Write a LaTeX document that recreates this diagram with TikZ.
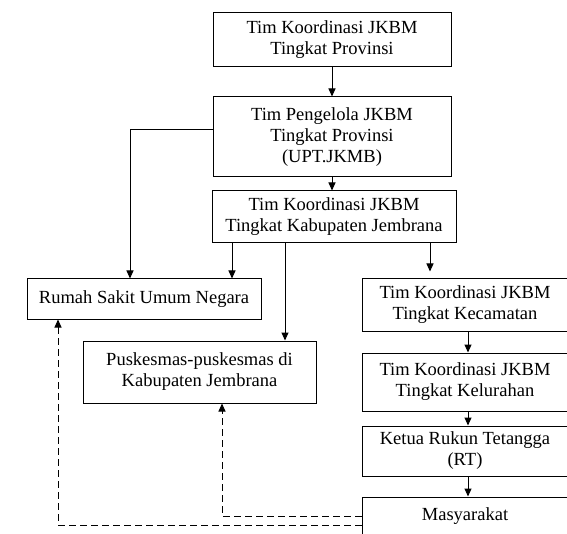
\documentclass[tikz,border=0pt]{standalone}
\usepackage{fontspec}
\setmainfont{Liberation Serif}
\usetikzlibrary{arrows.meta}

\begin{document}
\begin{tikzpicture}[x=1pt, y=-1pt,
		box/.style={draw, line width=1pt, align=center, inner sep=3pt, font=\fontsize{18.5}{21}\selectfont},
		arr/.style={line width=1pt, -{Triangle[length=8pt,width=7pt]}},
		dasharr/.style={arr, dash pattern=on 7pt off 4pt}]

		\useasboundingbox (0,0) rectangle (567,534);

		% Define the nodes
		\node[box, minimum width=238, minimum height=54] (koordinasi_provinsi) at (332,40) {Tim Koordinasi JKBM\\Tingkat Provinsi};
		\node[box, minimum width=238, minimum height=80] (pengelola_provinsi) at (332,137) {Tim Pengelola JKBM\\Tingkat Provinsi\\(UPT.JKMB)};
		\node[box, minimum width=244, minimum height=52] (kabupaten_jembrana) at (334,217) {Tim Koordinasi JKBM\\Tingkat Kabupaten Jembrana};
		\node[box, minimum width=234, minimum height=40] (rsu_negara) at (144,299) {Rumah Sakit Umum Negara};
		\node[box, minimum width=233, minimum height=62] (puskesmas_jembrana) at (199.5,372) {Puskesmas-puskesmas di\\Kabupaten Jembrana};
		\node[box, minimum width=206, minimum height=52] (kecamatan) at (465,305) {Tim Koordinasi JKBM\\Tingkat Kecamatan};
		\node[box, minimum width=206, minimum height=58] (kelurahan) at (465,382) {Tim Koordinasi JKBM\\Tingkat Kelurahan};
		\node[box, minimum width=206, minimum height=50] (rukun_tetangga) at (465,451) {Ketua Rukun Tetangga\\(RT)};
		\node[box, minimum width=206, text height=20pt, text depth=22pt] (masyarakat) at (465,521) {Masyarakat};

		% Define the edges
		\draw[arr] (koordinasi_provinsi) -- (pengelola_provinsi);
		\draw[arr] (pengelola_provinsi.south) -- (pengelola_provinsi.south |- kabupaten_jembrana.north);
		\draw[arr] ([yshift=7pt]pengelola_provinsi.west) -| ([xshift=-14pt]rsu_negara.north);
		\draw[arr] ([xshift=88pt]rsu_negara.north |- kabupaten_jembrana.south) -- ([xshift=88pt]rsu_negara.north);
		\draw[arr] ([xshift=85.5pt]puskesmas_jembrana.north |- kabupaten_jembrana.south) -- ([xshift=85.5pt]puskesmas_jembrana.north);
		\draw[arr, shorten >=7pt] ([xshift=-35pt]kecamatan.north |- kabupaten_jembrana.south) -- ([xshift=-35pt]kecamatan.north);
		\draw[arr] ([xshift=3pt]kecamatan.south) -- ([xshift=3pt]kelurahan.north);
		\draw[arr] ([xshift=3pt]kelurahan.south) -- ([xshift=3pt]rukun_tetangga.north);
		\draw[arr] ([xshift=3pt]rukun_tetangga.south) -- ([xshift=3pt]masyarakat.north);

		% Feedback from the community
		\draw[dasharr] ([yshift=5pt]masyarakat.west) -| ([xshift=22.5pt]puskesmas_jembrana.south);
		\draw[dasharr] ([yshift=-4pt]masyarakat.west) -| ([xshift=-86pt]rsu_negara.south);

	\end{tikzpicture}
\end{document}
